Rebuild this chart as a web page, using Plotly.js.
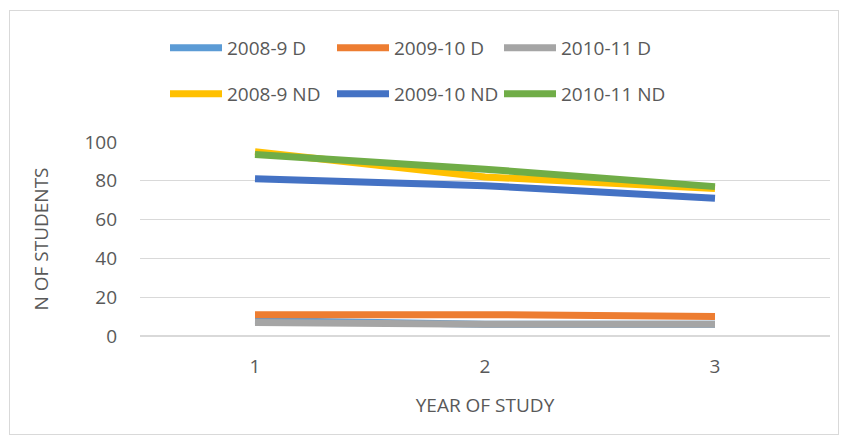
<!DOCTYPE html>
<html>
<head>
<meta charset="utf-8">
<script src="https://cdn.plot.ly/plotly-3.0.1.min.js"></script>
<style>
html,body{margin:0;padding:0;background:#fff;}
#wrap{position:relative;width:847px;height:443px;}
#frame{position:absolute;left:9px;top:10px;width:830px;height:425px;border:1.5px solid #d9d9d9;box-sizing:border-box;pointer-events:none;}
#chart{position:absolute;left:0;top:0;width:847px;height:443px;}
</style>
</head>
<body>
<div id="wrap"><div id="chart"></div><div id="frame"></div></div>
<script>
const years = [1, 2, 3];
const seriesNames = ["2008-9 D", "2009-10 D", "2010-11 D", "2008-9 ND", "2009-10 ND", "2010-11 ND"];
const d2008 = [8, 6, 6];
const d2009 = [11, 11, 10];
const d2010 = [7, 6, 6];
const nd2008 = [95, 82, 76];
const nd2009 = [81, 77.5, 71];
const nd2010 = [93.5, 86, 77];
const colors = ["#5B9BD5", "#ED7D31", "#A5A5A5", "#FFC000", "#4472C4", "#70AD47"];
const allValues = [d2008, d2009, d2010, nd2008, nd2009, nd2010];
const legendIds = ["legend", "legend", "legend", "legend2", "legend2", "legend2"];

const traces = allValues.map((vals, i) => ({
  x: years, y: vals, type: "scatter", mode: "lines",
  name: seriesNames[i],
  legend: legendIds[i],
  line: {color: colors[i], width: 7},
  hoverinfo: "skip"
}));

const font = {family: "Open Sans, Liberation Sans, sans-serif", size: 19, color: "#595959"};
const legendCommon = {
  orientation: "h", xref: "container", yref: "container",
  xanchor: "left", yanchor: "middle",
  font: font, entrywidth: 100, entrywidthmode: "pixels",
  itemwidth: 52, bgcolor: "rgba(0,0,0,0)", traceorder: "normal"
};

const layout = {
  width: 847, height: 443,
  margin: {l: 140, r: 17, t: 142, b: 107},
  paper_bgcolor: "#fff", plot_bgcolor: "#fff",
  font: font,
  showlegend: true,
  legend: Object.assign({}, legendCommon, {x: 165/847, y: 1 - 48/443}),
  legend2: Object.assign({}, legendCommon, {x: 165/847, y: 1 - 94/443}),
  xaxis: {
    range: [0.5, 3.5], tickvals: years, ticktext: years.map(String),
    showgrid: false, zeroline: false, showline: false,
    ticks: "", ticklabelstandoff: 17,
    tickfont: font,
    title: {text: "YEAR OF STUDY", font: font, standoff: 20}
  },
  yaxis: {
    range: [0, 100], dtick: 20, tick0: 0,
    showgrid: true, gridcolor: "#D9D9D9", gridwidth: 1.3,
    zeroline: true, zerolinecolor: "#D9D9D9", zerolinewidth: 1.3,
    showline: false, ticks: "", ticklabelstandoff: 22,
    tickfont: font,
    title: {text: "N OF STUDENTS", font: font, standoff: 30}
  }
};

Plotly.newPlot("chart", traces, layout, {staticPlot: true, displayModeBar: false});
</script>
</body>
</html>
